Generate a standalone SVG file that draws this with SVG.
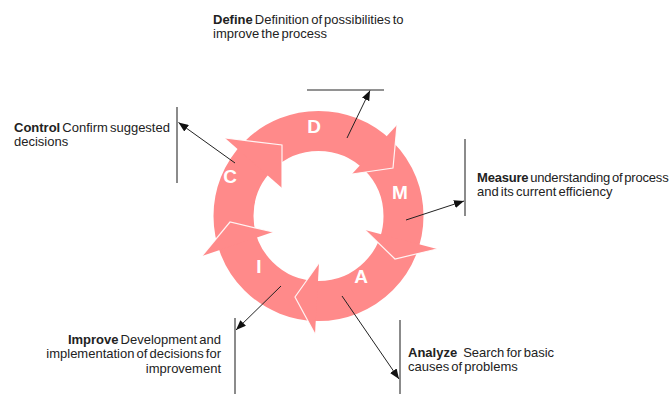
<svg xmlns="http://www.w3.org/2000/svg" width="672" height="394" viewBox="0 0 672 394">
  <defs>
    <style>
      .ring { fill: none; stroke: #ff8a8a; stroke-width: 40; }
      .head { fill: #ff8a8a; stroke: none; }
      .edge { fill: none; stroke: #ffffff; stroke-width: 1.2; stroke-opacity: 0.9; stroke-linejoin: miter; }
      .letter { font-family: "Liberation Sans", Arial, sans-serif; font-size: 19px; font-weight: bold; fill: #ffffff; text-anchor: middle; }
      .label { font-family: "Liberation Sans", Arial, sans-serif; font-size: 13px; fill: #222222; word-spacing: -1.5px; }
      .label .b { font-weight: bold; }
      .tight { letter-spacing: -0.2px; }
      .conn { fill: none; stroke: #222222; stroke-width: 1; }
      .bar { fill: none; stroke: #6e6e6e; stroke-width: 1.6; }
    </style>
    <marker id="ah" viewBox="0 0 10 8" refX="10" refY="4" markerWidth="10" markerHeight="8" orient="auto" markerUnits="userSpaceOnUse">
      <path d="M0,0 L10,4 L0,8 z" fill="#111111"/>
    </marker>
  </defs>

  <!-- cycle ring: one annulus, arrowheads laid on top -->
  <g id="cycle">
    <circle class="ring" cx="318.5" cy="216" r="85"/>

    <g id="node-d">
      <polygon class="head" points="397,125 393,168 352,174"/>
      <polyline class="edge" points="397,125 393,168 352,174"/>
      <text class="letter" x="314" y="133">D</text>
    </g>
    <g id="node-m">
      <polygon class="head" points="437,249 395,259 365,230"/>
      <polyline class="edge" points="437,249 395,259 365,230"/>
      <text class="letter" x="400" y="199">M</text>
    </g>
    <g id="node-a">
      <polygon class="head" points="315,334 295,297 319,263"/>
      <polyline class="edge" points="315,334 295,297 319,263"/>
      <text class="letter" x="361" y="283">A</text>
    </g>
    <g id="node-i">
      <polygon class="head" points="202,256 230,222 273,232"/>
      <polyline class="edge" points="202,256 230,222 273,232"/>
      <text class="letter" x="259" y="273">I</text>
    </g>
    <g id="node-c">
      <polygon class="head" points="225,138 282,145 282,188"/>
      <polyline class="edge" points="225,138 282,145 282,188"/>
      <text class="letter" x="230" y="183">C</text>
    </g>
  </g>

  <!-- callout bars and pointers -->
  <g id="connectors">
    <line class="bar" x1="307" y1="90" x2="384" y2="90"/>
    <line class="conn" x1="347" y1="138" x2="370" y2="90.5" marker-end="url(#ah)"/>

    <line class="bar" x1="177" y1="107" x2="177" y2="183"/>
    <line class="conn" x1="235" y1="163" x2="178.5" y2="122.5" marker-end="url(#ah)"/>

    <line class="bar" x1="465" y1="139" x2="465" y2="216"/>
    <line class="conn" x1="406" y1="220" x2="464" y2="201" marker-end="url(#ah)"/>

    <line class="bar" x1="235" y1="318" x2="235" y2="394"/>
    <line class="conn" x1="281" y1="286" x2="236" y2="330" marker-end="url(#ah)"/>

    <line class="bar" x1="400" y1="320" x2="400" y2="394"/>
    <line class="conn" x1="342" y1="296" x2="399" y2="379" marker-end="url(#ah)"/>
  </g>

  <!-- descriptions -->
  <g id="label-define">
    <text class="label" x="213" y="24"><tspan class="b">Define</tspan> Definition of possibilities to</text>
    <text class="label" x="213" y="38">improve the process</text>
  </g>
  <g id="label-control">
    <text class="label" x="14" y="132"><tspan class="b">Control</tspan> Confirm suggested</text>
    <text class="label" x="14" y="146">decisions</text>
  </g>
  <g id="label-measure">
    <text class="label tight" x="477" y="182"><tspan class="b">Measure</tspan> understanding of process</text>
    <text class="label" x="477" y="196">and its current efficiency</text>
  </g>
  <g id="label-improve">
    <text class="label" x="221" y="344" text-anchor="end"><tspan class="b">Improve</tspan> Development and</text>
    <text class="label" x="221" y="358" text-anchor="end">implementation of decisions for</text>
    <text class="label" x="221" y="373" text-anchor="end">improvement</text>
  </g>
  <g id="label-analyze">
    <text class="label" x="408" y="357"><tspan class="b">Analyze</tspan><tspan dx="6">Search for basic</tspan></text>
    <text class="label" x="408" y="371">causes of problems</text>
  </g>
</svg>
